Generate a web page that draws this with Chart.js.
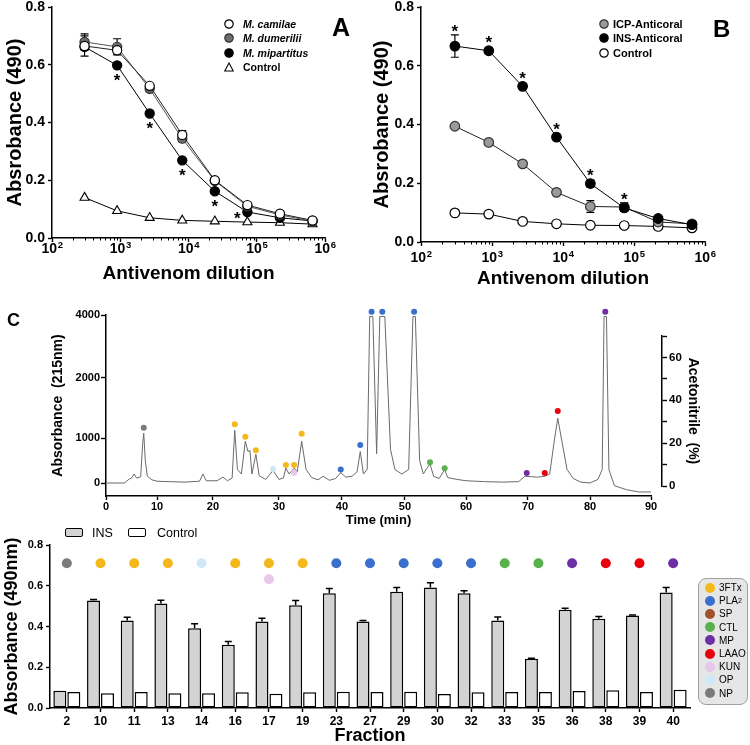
<!DOCTYPE html>
<html>
<head>
<meta charset="utf-8">
<title>Antivenom immunoreactivity</title>
<script src="https://cdn.jsdelivr.net/npm/chart.js@4.4.1/dist/chart.umd.min.js"></script>
<style>
  body { margin: 0; background: #fff; font-family: 'Liberation Sans', Arial, sans-serif; color: #000; }
  #page { position: relative; width: 750px; height: 745px; overflow: hidden; }
  #page canvas { position: absolute; }
  .letter { position: absolute; font-weight: bold; line-height: 1; }
  .legend { position: absolute; font-weight: bold; }
  .legend .row { display: flex; align-items: center; height: 14.3px; white-space: nowrap; }
  .legend svg { flex: none; }
  .barKey { position: absolute; font-size: 12.5px; line-height: 1; }
  .barBox { position: absolute; width: 18px; height: 9px; border: 1.4px solid #000; border-radius: 2px; box-sizing: border-box; }
  #familyLegend { position: absolute; left: 698px; top: 578px; width: 50px; height: 127px; box-sizing: border-box;
                  background: #e6e6e6; border: 1px solid #a0a0a0; border-radius: 8px; padding: 2px 0 0 6px; font-size: 10px; }
  #familyLegend .row { display: flex; align-items: center; height: 13.2px; white-space: nowrap; }
  #familyLegend .dot { width: 10px; height: 10px; border-radius: 50%; margin-right: 4px; flex: none; }
  #familyLegend sub { font-size: 7px; vertical-align: -2px; }
</style>
</head>
<body>
<div id="page">
  <canvas id="chartA" width="375" height="290" style="left:0;top:0"></canvas>
  <canvas id="chartB" width="380" height="290" style="left:370px;top:0"></canvas>
  <canvas id="chartC" width="750" height="240" style="left:0;top:290px"></canvas>
  <canvas id="chartAcn" width="110" height="180" style="left:640px;top:320px"></canvas>
  <canvas id="chartD" width="750" height="225" style="left:0;top:520px"></canvas>

  <div class="letter" style="left:332px;top:15px;font-size:25px">A</div>
  <div class="letter" style="left:713px;top:17px;font-size:24px">B</div>
  <div class="letter" style="left:7px;top:311px;font-size:18px">C</div>

  <div class="legend" style="left:224px;top:17px;font-size:10.5px;font-style:italic">
    <div class="row"><svg width="10" height="10"><circle cx="5" cy="5" r="4.2" fill="#fff" stroke="#000" stroke-width="1.2"/></svg><span style="margin-left:9px">M. camilae</span></div>
    <div class="row"><svg width="10" height="10"><circle cx="5" cy="5" r="4.2" fill="#6d6d6d" stroke="#333" stroke-width="1.2"/></svg><span style="margin-left:9px">M. dumerilii</span></div>
    <div class="row"><svg width="10" height="10"><circle cx="5" cy="5" r="4.2" fill="#000" stroke="#000" stroke-width="1.2"/></svg><span style="margin-left:9px">M. mipartitus</span></div>
    <div class="row"><svg width="10" height="10"><polygon points="5,1 9.3,9 0.7,9" fill="#fff" stroke="#000" stroke-width="1.1"/></svg><span style="margin-left:9px;font-style:normal">Control</span></div>
  </div>

  <div class="legend" style="left:599px;top:17px;font-size:11px">
    <div class="row"><svg width="10" height="10"><circle cx="5" cy="5" r="4.2" fill="#9a9a9a" stroke="#333" stroke-width="1.2"/></svg><span style="margin-left:4px">ICP-Anticoral</span></div>
    <div class="row"><svg width="10" height="10"><circle cx="5" cy="5" r="4.2" fill="#000" stroke="#000" stroke-width="1.2"/></svg><span style="margin-left:4px">INS-Anticoral</span></div>
    <div class="row"><svg width="10" height="10"><circle cx="5" cy="5" r="4.2" fill="#fff" stroke="#000" stroke-width="1.2"/></svg><span style="margin-left:4px">Control</span></div>
  </div>

  <div class="barBox" style="left:65px;top:528px;background:#d3d3d3"></div>
  <div class="barKey" style="left:92px;top:527px">INS</div>
  <div class="barBox" style="left:128px;top:528px;background:#fff"></div>
  <div class="barKey" style="left:157px;top:527px">Control</div>

  <div id="familyLegend"></div>
</div>

<script>
// ---- data: antivenom dilution curves (A, B) ----
const dilutions = [300, 900, 2700, 8100, 24300, 72900, 218700, 656100];

const camilae    = [0.665, 0.650, 0.527, 0.357, 0.200, 0.114, 0.084, 0.061];
const dumerilii  = [0.679, 0.662, 0.517, 0.344, 0.198, 0.110, 0.080, 0.058];
const mipartitus = [0.662, 0.598, 0.431, 0.269, 0.162, 0.090, 0.070, 0.059];
const controlA   = [0.140, 0.094, 0.070, 0.061, 0.058, 0.055, 0.053, 0.048];
const errCamilae    = [0.035, 0.010, 0.008, 0.015, 0.008, 0.006, 0.004, 0.004];
const errDumerilii  = [0.028, 0.028, 0.010, 0.010, 0.010, 0.006, 0.004, 0.004];
const errMipartitus = [0.010, 0.005, 0.005, 0.005, 0.005, 0.005, 0.004, 0.004];
const starsA = [1, 2, 3, 4, 5];

const icpAnticoral = [0.394, 0.339, 0.266, 0.169, 0.121, 0.119, 0.068, 0.062];
const insAnticoral = [0.667, 0.651, 0.530, 0.357, 0.199, 0.116, 0.080, 0.059];
const controlB     = [0.099, 0.095, 0.070, 0.062, 0.057, 0.056, 0.053, 0.048];
const errIcp = [0, 0, 0, 0, 0.020, 0.015, 0, 0];
const errIns = [0.038, 0, 0, 0, 0.012, 0.010, 0, 0];
const starsB = [0, 1, 2, 3, 4, 5];

// ---- data: RP-HPLC chromatogram (C), [time min, absorbance 215 nm] ----
const trace = [
  [0, 0], [3.7, 0], [4.0, 40], [4.6, 90], [5.0, 110], [5.5, 200], [6.0, 110], [6.8, 140], [7.2, 900], [7.4, 1080],
  [7.7, 500], [8.1, 150], [9, 70], [10, 40], [12, 30], [15, 20], [17.6, 40], [18.2, 200], [18.8, 50], [20.6, 50],
  [21.5, 130], [22.2, 50], [22.9, 110], [23.3, 1130], [23.7, 300], [24.3, 200], [24.9, 930], [25.3, 700], [25.6, 720],
  [25.9, 200], [26.5, 640], [27.0, 160], [28.0, 80], [29.1, 280], [30.0, 80], [30.7, 110], [31.1, 330], [31.6, 200],
  [32.4, 330], [32.9, 250], [33.6, 930], [34.3, 300], [35.2, 120], [36.2, 70], [37.0, 150], [38.0, 60], [39.0, 100],
  [39.8, 230], [40.6, 130], [41.6, 150], [42.4, 250], [42.9, 700], [43.4, 200], [44.0, 300], [44.4, 3950], [44.9, 3950],
  [45.5, 650], [46.0, 3950], [46.8, 3950], [47.7, 750], [48.4, 300], [49.5, 200], [50.6, 300], [51.3, 3950], [51.7, 3950],
  [52.4, 500], [53.0, 200], [53.6, 330], [54.1, 420], [54.7, 150], [55.6, 100], [56.5, 300], [57.0, 120], [58.5, 80],
  [60, 50], [63, 30], [66, 20], [68.5, 30], [69.5, 150], [70.5, 140], [71.5, 130], [72.7, 150], [73.5, 200], [74.2, 900],
  [74.8, 1330], [75.5, 900], [76.3, 300], [77.3, 100], [78.5, 20], [80.0, 0], [81.3, 80], [82.0, 300], [82.3, 3950],
  [82.7, 3950], [83.1, 300], [84.0, -60], [86.0, -150], [88.0, -200], [90.0, -200]
];
const peakTime   = [7.4, 23.3, 24.9, 26.5, 29.1, 31.1, 32.4, 32.4, 33.6, 39.8, 42.9, 44.7, 46.4, 51.5, 54.1, 56.5, 69.8, 72.7, 74.8, 82.5];
const peakLevel  = [1170, 1230, 1020, 730, 310, 400, 400, 220, 1070, 300, 845, 4100, 4100, 4100, 460, 330, 220, 220, 1450, 4100];
const peakFamily = ['NP', '3FTx', '3FTx', '3FTx', 'OP', '3FTx', '3FTx', 'KUN', '3FTx', 'PLA2', 'PLA2', 'PLA2', 'PLA2', 'PLA2',
                    'CTL', 'CTL', 'MP', 'LAAO', 'LAAO', 'MP'];

// ---- data: fraction ELISA (bottom) ----
const fractions = ['2', '10', '11', '13', '14', '16', '17', '19', '23', '27', '29', '30', '32', '33', '35', '36', '38', '39', '40'];
const insAbs  = [0.085, 0.527, 0.429, 0.513, 0.392, 0.310, 0.424, 0.504, 0.563, 0.424, 0.571, 0.591, 0.563, 0.429, 0.242, 0.482, 0.438, 0.454, 0.567];
const insErr  = [0, 0.006, 0.016, 0.016, 0.021, 0.016, 0.016, 0.023, 0.023, 0.006, 0.021, 0.024, 0.013, 0.018, 0.002, 0.008, 0.011, 0.003, 0.024];
const ctrlAbs = [0.078, 0.073, 0.078, 0.073, 0.073, 0.077, 0.070, 0.077, 0.080, 0.078, 0.080, 0.069, 0.077, 0.078, 0.078, 0.083, 0.087, 0.078, 0.090];
const fractionFamily  = ['NP', '3FTx', '3FTx', '3FTx', 'OP', '3FTx', '3FTx', '3FTx', 'PLA2', 'PLA2', 'PLA2', 'PLA2', 'PLA2',
                         'CTL', 'CTL', 'MP', 'LAAO', 'LAAO', 'MP'];
const fractionFamily2 = ['', '', '', '', '', '', 'KUN', '', '', '', '', '', '', '', '', '', '', '', ''];

const familyOrder = ['3FTx', 'PLA2', 'SP', 'CTL', 'MP', 'LAAO', 'KUN', 'OP', 'NP'];
const familyColors = {
  '3FTx': '#f4b81c', PLA2: '#3a6fcd', SP: '#a0522d', CTL: '#58b14c', MP: '#6e2ea6',
  LAAO: '#e8000b', KUN: '#e9c7eb', OP: '#cfe8f7', NP: '#7b7b7b'
};

// ---- helpers ----
const FONT = "'Liberation Sans', Arial, sans-serif";
Chart.defaults.font.family = FONT;
Chart.defaults.color = '#000';

const pts = arr => dilutions.map((x, i) => ({ x, y: arr[i] }));

function fixSize(w, h) {
  return scale => {
    if (w != null) scale.width = w;
    if (h != null) scale.height = h;
    scale.paddingTop = scale.paddingBottom = scale.paddingLeft = scale.paddingRight = 0;
  };
}

function axisLook(tickLength) {
  return {
    grid: { display: true, drawOnChartArea: false, drawTicks: true, tickLength, color: '#000', tickWidth: 1.4 },
    border: { display: true, color: '#000', width: 1.5 }
  };
}

// linear scale whose value -> position mapping is piecewise (segmented axes of the chromatogram)
class PiecewiseScale extends Chart.LinearScale {
  static id = 'piecewise';
  toDecimal(v) {
    const k = this.options.knots, f = this.options.stops, n = k.length - 1;
    let i = 1;
    while (i < n && v > k[i]) i++;
    return f[i - 1] + (v - k[i - 1]) * (f[i] - f[i - 1]) / (k[i] - k[i - 1]);
  }
  getPixelForValue(v) {
    return this.getPixelForDecimal(this.toDecimal(v));
  }
}
Chart.register(PiecewiseScale);

// error bars from dataset.errorBars
const errorBarPlugin = {
  id: 'errorBars',
  beforeDatasetsDraw(chart, args, opts) {
    const ctx = chart.ctx;
    chart.data.datasets.forEach((ds, i) => {
      if (!ds.errorBars) return;
      const meta = chart.getDatasetMeta(i);
      const yScale = chart.scales[meta.yAxisID];
      ctx.save();
      ctx.strokeStyle = '#000';
      ctx.lineWidth = opts.width || 1.2;
      meta.data.forEach((el, j) => {
        const err = ds.errorBars[j];
        if (!err) return;
        const v = typeof ds.data[j] === 'object' ? ds.data[j].y : ds.data[j];
        const top = yScale.getPixelForValue(v + err);
        const bot = ds.errorUpOnly ? el.y : yScale.getPixelForValue(v - err);
        const c = opts.cap || 4;
        ctx.beginPath();
        ctx.moveTo(el.x, top); ctx.lineTo(el.x, bot);
        ctx.moveTo(el.x - c, top); ctx.lineTo(el.x + c, top);
        if (!ds.errorUpOnly) { ctx.moveTo(el.x - c, bot); ctx.lineTo(el.x + c, bot); }
        ctx.stroke();
      });
      ctx.restore();
    });
  }
};

// significance asterisks
const starPlugin = {
  id: 'stars',
  afterDatasetsDraw(chart, args, opts) {
    if (!opts.indices) return;
    const ds = chart.data.datasets[opts.dataset];
    const meta = chart.getDatasetMeta(opts.dataset);
    const y = chart.scales.y;
    const ctx = chart.ctx;
    ctx.save();
    ctx.font = 'bold 17px ' + FONT;
    ctx.textAlign = 'center';
    ctx.fillStyle = '#000';
    opts.indices.forEach(i => {
      const pt = meta.data[i];
      const err = (ds.errorBars && ds.errorBars[i]) || 0;
      let cx = pt.x, cy;
      if (opts.left && opts.left.includes(i)) { cx -= 10; cy = pt.y + 2; }
      else if (opts.below) cy = Math.max(pt.y + 5, y.getPixelForValue(ds.data[i].y - err)) + 6;
      else cy = Math.min(pt.y - 5, y.getPixelForValue(ds.data[i].y + err)) - 7;
      ctx.fillText('*', cx, cy + 9.5);
    });
    ctx.restore();
  }
};

// log dilution axis: short minor ticks and "10^n" labels with a raised exponent
const logAxisPlugin = {
  id: 'logAxis',
  afterDraw(chart, args, opts) {
    const s = chart.scales.x, ctx = chart.ctx;
    ctx.save();
    ctx.strokeStyle = '#000';
    ctx.fillStyle = '#000';
    ctx.lineWidth = 1;
    for (let e = 2; e < 6; e++) {
      for (let m = 2; m < 10; m++) {
        const px = Math.round(s.getPixelForValue(m * Math.pow(10, e))) + 0.5;
        ctx.beginPath(); ctx.moveTo(px, s.top); ctx.lineTo(px, s.top + 2.5); ctx.stroke();
      }
    }
    const base = s.top + opts.baseline;
    s.ticks.forEach(t => {
      const exp = String(Math.round(Math.log10(t.value)));
      ctx.font = 'bold 14px ' + FONT;
      const wBase = ctx.measureText('10').width;
      ctx.font = 'bold 9.5px ' + FONT;
      const wExp = ctx.measureText(exp).width;
      const x0 = s.getPixelForValue(t.value) - (wBase + wExp) / 2;
      ctx.textAlign = 'left';
      ctx.textBaseline = 'alphabetic';
      ctx.font = 'bold 14px ' + FONT;
      ctx.fillText('10', x0, base);
      ctx.font = 'bold 9.5px ' + FONT;
      ctx.fillText(exp, x0 + wBase + 0.5, base - 5.5);
    });
    ctx.restore();
  }
};

function doseChart(id, datasets, cfg) {
  return new Chart(document.getElementById(id), {
    type: 'line',
    data: { datasets },
    plugins: [errorBarPlugin, starPlugin, logAxisPlugin],
    options: {
      responsive: false, animation: false, events: [],
      layout: { autoPadding: false, padding: { left: 0, right: cfg.padRight, top: 7, bottom: 0 } },
      plugins: { legend: { display: false }, tooltip: { enabled: false }, stars: cfg.stars,
                 errorBars: { cap: 4, width: 1.2 }, logAxis: { baseline: cfg.labelBaseline } },
      scales: {
        x: {
          type: 'logarithmic', min: 100, max: 1e6,
          afterBuildTicks: s => { s.ticks = [1e2, 1e3, 1e4, 1e5, 1e6].map(value => ({ value, major: true })); },
          ticks: { callback: () => '', autoSkip: false, maxRotation: 0, font: { size: 14, weight: 'bold' }, padding: 1 },
          ...axisLook(4),
          title: { display: true, text: 'Antivenom dilution', font: { size: 19, weight: 'bold' }, padding: { top: 0, bottom: cfg.titlePad } },
          afterFit: fixSize(null, cfg.xHeight)
        },
        y: {
          min: 0, max: 0.8,
          ticks: { stepSize: 0.2, callback: v => v.toFixed(1), font: { size: 14, weight: 'bold' }, padding: 3 },
          ...axisLook(4),
          title: { display: true, text: 'Absrobance (490)', font: { size: 20, weight: 'bold' }, padding: { top: cfg.yTitlePad, bottom: 0 } },
          afterFit: fixSize(cfg.yWidth, null)
        }
      }
    }
  });
}

// ---- panel A ----
doseChart('chartA', [
  { data: pts(camilae), errorBars: errCamilae, borderColor: '#222', borderWidth: 1,
    pointBackgroundColor: '#fff', pointBorderColor: '#000', pointBorderWidth: 1.2, pointRadius: 4.6 },
  { data: pts(dumerilii), errorBars: errDumerilii, borderColor: '#555', borderWidth: 1,
    pointBackgroundColor: '#6d6d6d', pointBorderColor: '#333', pointBorderWidth: 1.2, pointRadius: 4.6 },
  { data: pts(mipartitus), errorBars: errMipartitus, borderColor: '#000', borderWidth: 1,
    pointBackgroundColor: '#000', pointBorderColor: '#000', pointBorderWidth: 1.2, pointRadius: 4.6 },
  { data: pts(controlA), borderColor: '#000', borderWidth: 1, pointStyle: 'triangle',
    pointBackgroundColor: '#fff', pointBorderColor: '#000', pointBorderWidth: 1.1, pointRadius: 5.2 }
], { padRight: 50, xHeight: 52, yWidth: 52, labelBaseline: 15, titlePad: 4.6, yTitlePad: 3,
     stars: { dataset: 2, indices: starsA, below: true, left: [5] } });

// ---- panel B ----
doseChart('chartB', [
  { data: pts(insAnticoral), errorBars: errIns, borderColor: '#000', borderWidth: 1,
    pointBackgroundColor: '#000', pointBorderColor: '#000', pointBorderWidth: 1.2, pointRadius: 4.8 },
  { data: pts(icpAnticoral), errorBars: errIcp, borderColor: '#222', borderWidth: 1,
    pointBackgroundColor: '#9a9a9a', pointBorderColor: '#333', pointBorderWidth: 1.2, pointRadius: 4.8 },
  { data: pts(controlB), borderColor: '#000', borderWidth: 1,
    pointBackgroundColor: '#fff', pointBorderColor: '#000', pointBorderWidth: 1.2, pointRadius: 4.8 }
], { padRight: 45, xHeight: 48, yWidth: 51, labelBaseline: 20, titlePad: 0, yTitlePad: 0,
     stars: { dataset: 0, indices: starsB, below: false } });

// ---- panel C: chromatogram ----
new Chart(document.getElementById('chartC'), {
  type: 'line',
  data: {
    datasets: [
      { type: 'scatter', data: peakTime.map((x, i) => ({ x, y: peakLevel[i] })), clip: false,
        pointBackgroundColor: peakFamily.map(f => familyColors[f]), pointBorderWidth: 0, pointRadius: 3 },
      { data: trace.map(([x, y]) => ({ x, y })), borderColor: '#6a6a6a', borderWidth: 1, pointRadius: 0, tension: 0, clip: false }
    ]
  },
  options: {
    responsive: false, animation: false, events: [],
    layout: { autoPadding: false, padding: { left: 0, right: 99, top: 25, bottom: 0 } },
    plugins: { legend: { display: false }, tooltip: { enabled: false } },
    scales: {
      x: {
        type: 'piecewise', min: 0, max: 90, bounds: 'data',
        knots: [0, 10, 20, 30, 40, 50, 60, 70, 80, 90],
        stops: [0, 0.0936, 0.1963, 0.3174, 0.4330, 0.5486, 0.6606, 0.7743, 0.8881, 1],
        afterBuildTicks: s => { s.ticks = [0, 10, 20, 30, 40, 50, 60, 70, 80, 90].map(value => ({ value })); },
        ticks: { callback: v => String(v), autoSkip: false, maxRotation: 0, font: { size: 11, weight: 'bold' }, padding: 0 },
        ...axisLook(4),
        title: { display: true, text: 'Time (min)', font: { size: 13, weight: 'bold' }, padding: { top: 0, bottom: 2.2 } },
        afterFit: fixSize(null, 34)
      },
      y: {
        type: 'piecewise', min: -290, max: 4000, bounds: 'data',
        knots: [-290, 0, 1000, 2000, 4000],
        stops: [0, 0.0718, 0.3204, 0.652, 1],
        afterBuildTicks: s => { s.ticks = [0, 1000, 2000, 4000].map(value => ({ value })); },
        ticks: { callback: v => String(v), autoSkip: false, font: { size: 11, weight: 'bold' }, padding: 1 },
        ...axisLook(5),
        title: { display: true, text: 'Absorbance  (215nm)', font: { size: 14, weight: 'bold' }, padding: { top: 50, bottom: 0 } },
        afterFit: fixSize(106, null)
      }
    }
  }
});

// acetonitrile gradient axis (right side of C)
new Chart(document.getElementById('chartAcn'), {
  type: 'line',
  data: { datasets: [] },
  options: {
    responsive: false, animation: false, events: [],
    layout: { autoPadding: false, padding: { left: 0, right: 38, top: 16, bottom: 14 } },
    plugins: { legend: { display: false }, tooltip: { enabled: false } },
    scales: {
      x: { display: false },
      y: {
        position: 'right', min: 0, max: 70,
        ticks: { stepSize: 10, autoSkip: false, callback: v => (v % 20 === 0 ? String(v) : ''), font: { size: 11.5, weight: 'bold' }, padding: 2 },
        ...axisLook(5),
        title: { display: true, text: 'Acetonitrile  (%)', font: { size: 14, weight: 'bold' }, padding: { top: 10.6, bottom: 0 } },
        afterFit: fixSize(50, null)
      }
    }
  }
});

// ---- bottom: fraction ELISA bars ----
const DOT_ROW = 0.71, DOT_ROW2 = 0.632;
new Chart(document.getElementById('chartD'), {
  type: 'bar',
  data: {
    labels: fractions,
    datasets: [
      { type: 'line', data: fractions.map(() => DOT_ROW), showLine: false, pointRadius: 5, pointBorderWidth: 0,
        pointBackgroundColor: fractionFamily.map(f => familyColors[f]) },
      { type: 'line', data: fractionFamily2.map(f => (f ? DOT_ROW2 : null)), showLine: false, pointRadius: 5, pointBorderWidth: 0,
        pointBackgroundColor: fractionFamily2.map(f => familyColors[f] || '#fff') },
      { label: 'INS', data: insAbs, errorBars: insErr, errorUpOnly: true, backgroundColor: '#d3d3d3', borderColor: '#000',
        borderWidth: 1.5, borderSkipped: false, categoryPercentage: 0.83, barPercentage: 0.93 },
      { label: 'Control', data: ctrlAbs, backgroundColor: '#fff', borderColor: '#000',
        borderWidth: 1.5, borderSkipped: false, categoryPercentage: 0.83, barPercentage: 0.93 }
    ]
  },
  plugins: [errorBarPlugin],
  options: {
    responsive: false, animation: false, events: [],
    layout: { autoPadding: false, padding: { left: 0, right: 60, top: 25, bottom: 0 } },
    plugins: { legend: { display: false }, tooltip: { enabled: false }, errorBars: { cap: 3.5, width: 1.5 } },
    scales: {
      x: {
        ticks: { autoSkip: false, maxRotation: 0, font: { size: 12, weight: 'bold' }, padding: 2 },
        ...axisLook(4),
        grid: { display: true, drawOnChartArea: false, offset: false, tickLength: 4, color: '#000', tickWidth: 1.4 },
        title: { display: true, text: 'Fraction', font: { size: 18, weight: 'bold', lineHeight: 1 }, padding: { top: 0, bottom: 0 } },
        afterFit: fixSize(null, 37)
      },
      y: {
        min: 0, max: 0.8,
        ticks: { stepSize: 0.2, callback: v => v.toFixed(1), font: { size: 11, weight: 'bold' }, padding: 3 },
        ...axisLook(4),
        title: { display: true, text: 'Absorbance (490nm)', font: { size: 18, weight: 'bold', lineHeight: 1 }, padding: { top: 3, bottom: 0 } },
        afterFit: fixSize(50, null)
      }
    }
  }
});

// toxin family key
const legendBox = document.getElementById('familyLegend');
familyOrder.forEach(f => {
  const row = document.createElement('div');
  row.className = 'row';
  row.innerHTML = '<span class="dot" style="background:' + familyColors[f] + '"></span>' + (f === 'PLA2' ? 'PLA<sub>2</sub>' : f);
  legendBox.appendChild(row);
});
</script>
</body>
</html>
